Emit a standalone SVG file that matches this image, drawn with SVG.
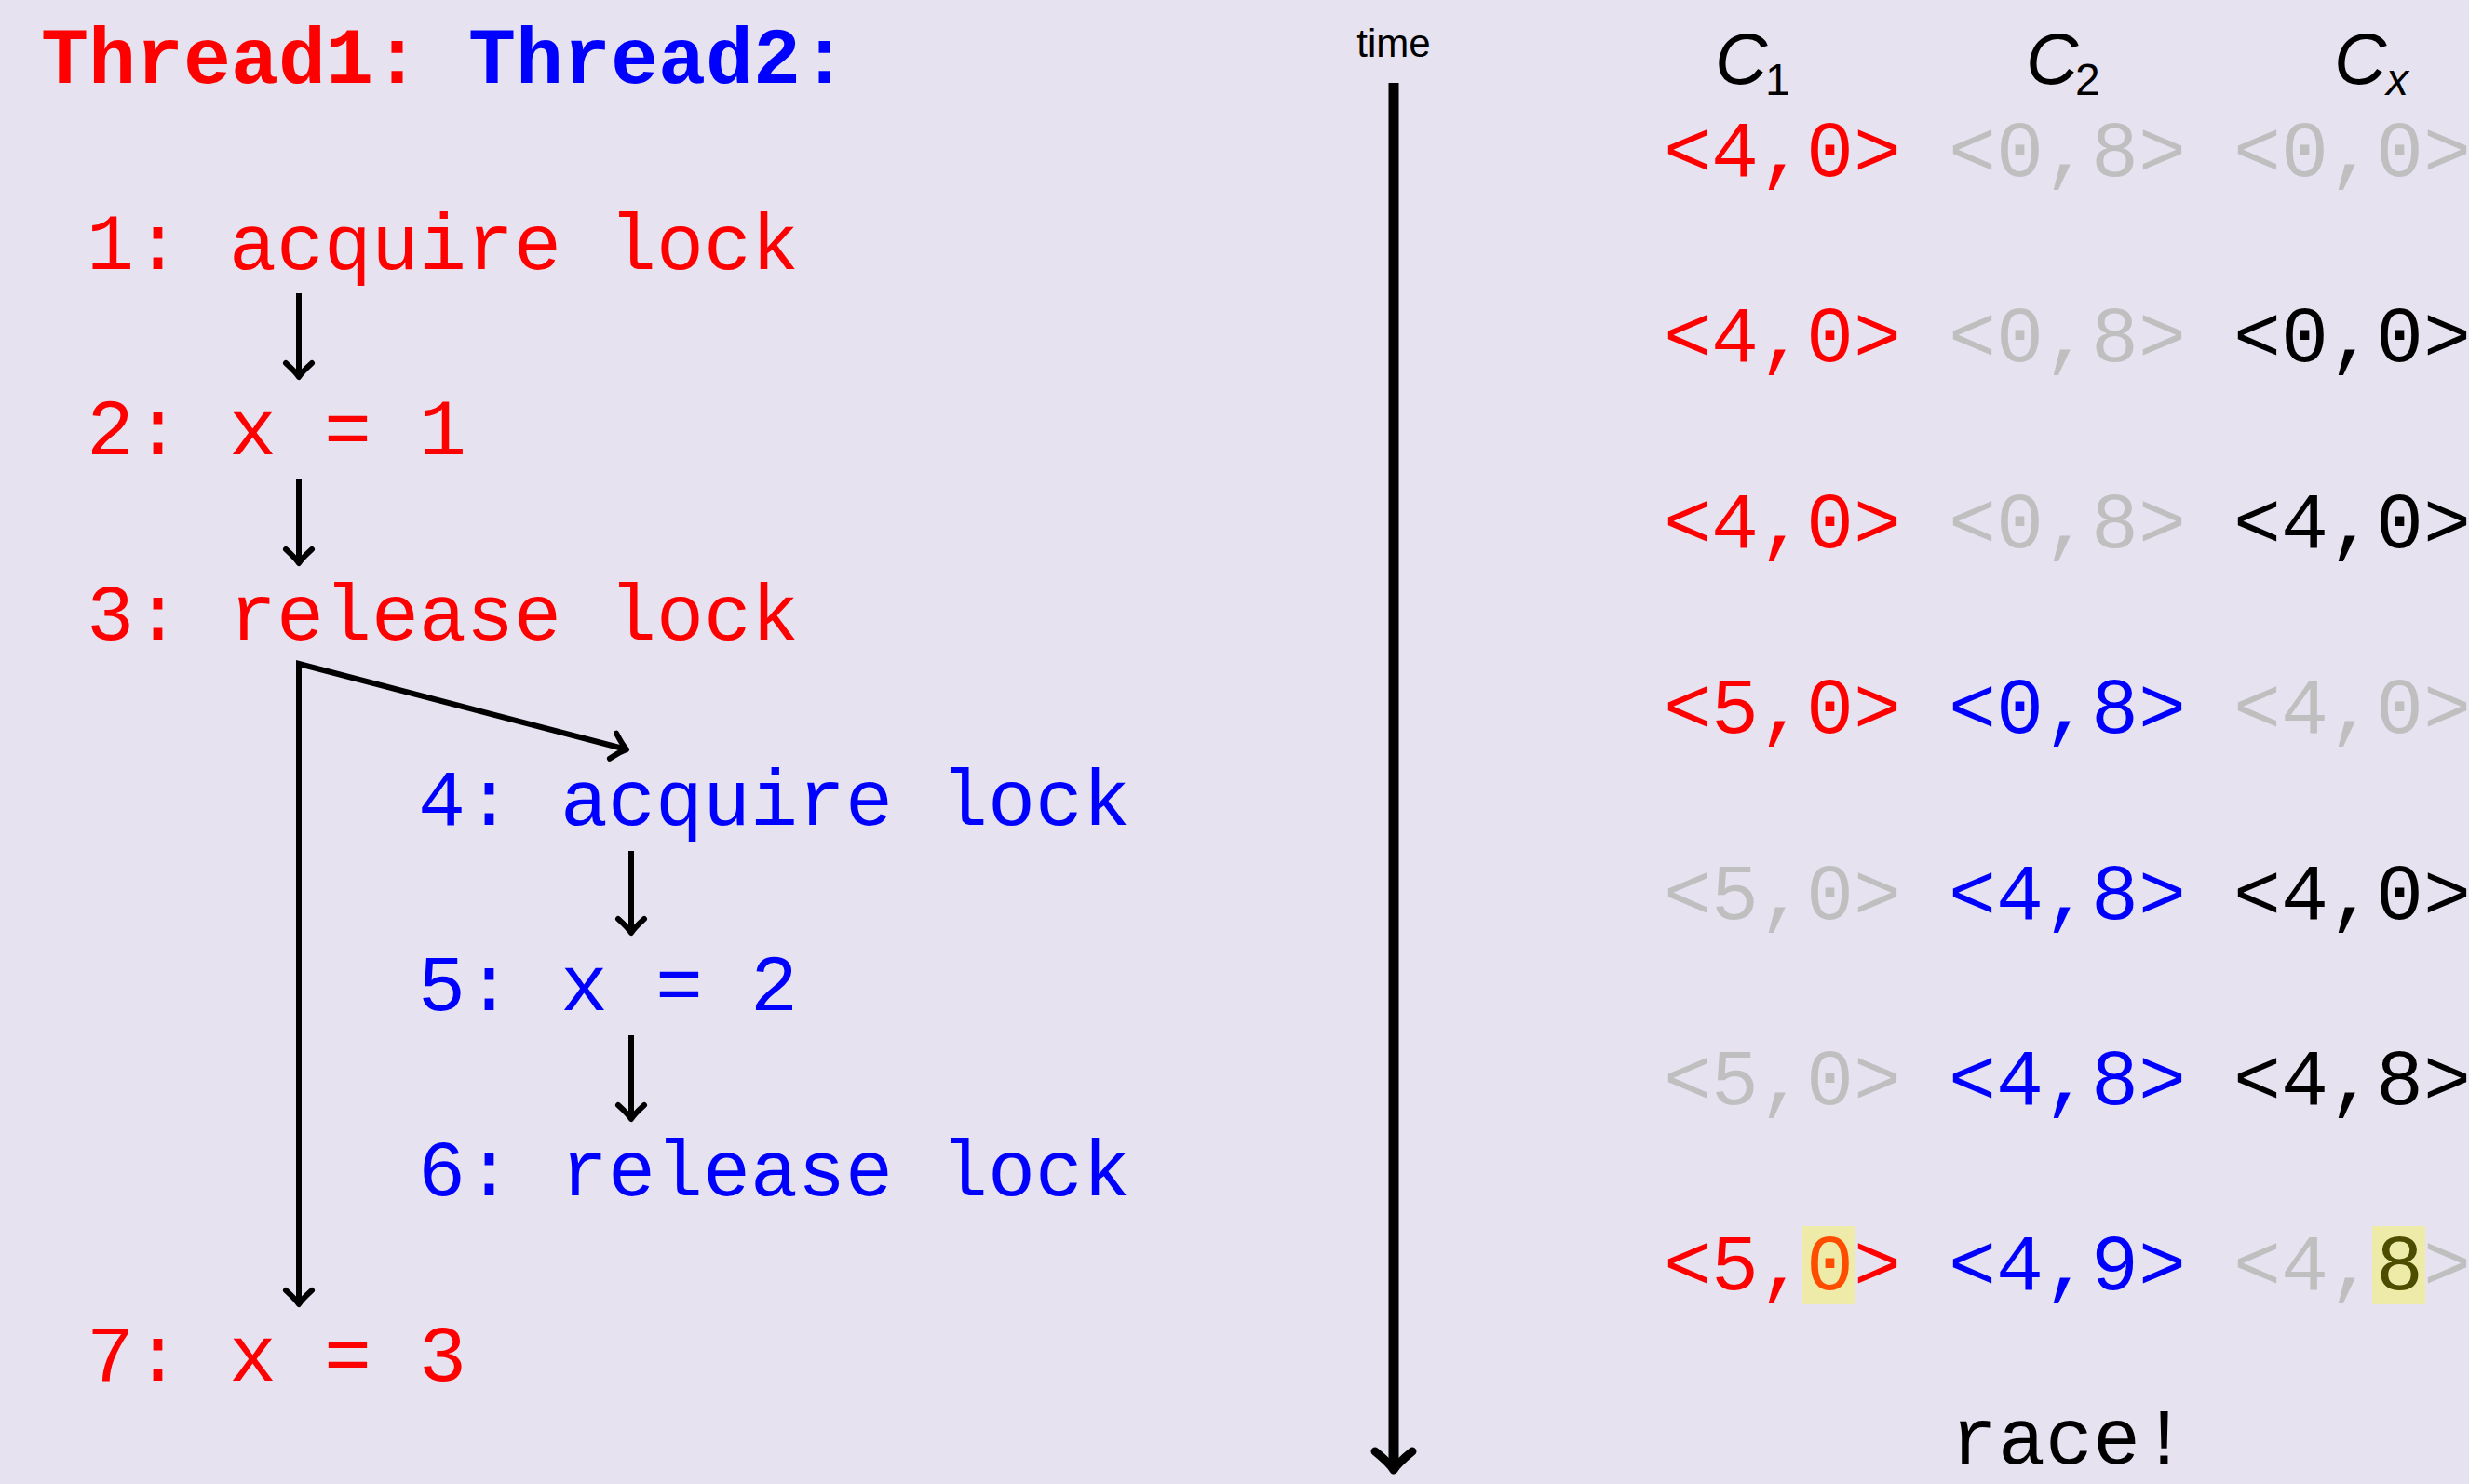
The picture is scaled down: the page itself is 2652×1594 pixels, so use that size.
<svg xmlns="http://www.w3.org/2000/svg" width="2652" height="1594" viewBox="0 0 2652 1594">
<style>
.mono{font-family:"Liberation Mono","Courier New",monospace;font-size:85px}
.bold{font-weight:bold}
.red{fill:#FF0000}
.blue{fill:#0000FF}
.gray{fill:#BFBFBF}
.blk{fill:#000000}
.sans{font-family:"Liberation Sans",Arial,sans-serif;fill:#000}
.cap{font-size:78px;font-style:italic}
.sub{font-size:48px;font-style:normal}
.subi{font-size:48px;font-style:italic}
.conn{fill:none;stroke:#000;stroke-width:6}
.hl{fill:#FFFF00;fill-opacity:0.3}
</style>
<defs>
<marker id="arr" markerUnits="userSpaceOnUse" markerWidth="40" markerHeight="40" viewBox="-20 -20 40 40" refX="0" refY="0" orient="auto">
<path d="M -15,-14 Q -5,-3 0,0 Q -5,3 -15,14" fill="none" stroke="#000" stroke-width="6" stroke-linecap="round" stroke-linejoin="round"/>
</marker>
<marker id="arrT" markerUnits="userSpaceOnUse" markerWidth="60" markerHeight="60" viewBox="-30 -30 60 60" refX="0" refY="0" orient="auto">
<path d="M -20,-20 Q -7,-4 0,0 Q -7,4 -20,20" fill="none" stroke="#000" stroke-width="9" stroke-linecap="round" stroke-linejoin="round"/>
</marker>
</defs>
<rect x="0" y="0" width="2652" height="1594" fill="#E6E2F0"/>

<g id="header">
<text class="mono bold red" x="44" y="89">Thread1:</text>
<text class="mono bold blue" x="503" y="89">Thread2:</text>
</g>

<g id="n1"><text class="mono red" x="93" y="289">1: acquire lock</text></g>
<g id="n2"><text class="mono red" x="93" y="488">2: x = 1</text></g>
<g id="n3"><text class="mono red" x="93" y="687">3: release lock</text></g>
<g id="n4"><text class="mono blue" x="449" y="886">4: acquire lock</text></g>
<g id="n5"><text class="mono blue" x="449" y="1085">5: x = 2</text></g>
<g id="n6"><text class="mono blue" x="449" y="1284">6: release lock</text></g>
<g id="n7"><text class="mono red" x="93" y="1483">7: x = 3</text></g>

<g id="connectors">
<path class="conn" d="M321,315 L321,405" marker-end="url(#arr)"/>
<path class="conn" d="M321,515 L321,605" marker-end="url(#arr)"/>
<path class="conn" d="M321,1401 L321,713 L673,805" stroke-linejoin="miter" marker-end="url(#arr)"/>
<path class="conn" d="M321,713 L321,1401" marker-end="url(#arr)"/>
<path class="conn" d="M678,914 L678,1002" marker-end="url(#arr)"/>
<path class="conn" d="M678,1112 L678,1202" marker-end="url(#arr)"/>
<path d="M1497,89 L1497,1579" fill="none" stroke="#000" stroke-width="11" marker-end="url(#arrT)"/>
</g>

<g id="time"><text class="sans" x="1497" y="61" font-size="42" text-anchor="middle">time</text></g>

<g id="headers">
<text class="sans cap" x="1842" y="90">C<tspan class="sub" x="1896" y="102">1</tspan></text>
<text class="sans cap" x="2176" y="90">C<tspan class="sub" x="2229" y="102">2</tspan></text>
<text class="sans cap" x="2507" y="90">C<tspan class="subi" x="2563" y="102">x</tspan></text>
</g>

<g id="row1">
<text class="mono red" x="1787" y="189">&lt;4,0&gt;</text>
<text class="mono gray" x="2093" y="189">&lt;0,8&gt;</text>
<text class="mono gray" x="2399" y="189">&lt;0,0&gt;</text>
</g>
<g id="row2">
<text class="mono red" x="1787" y="388">&lt;4,0&gt;</text>
<text class="mono gray" x="2093" y="388">&lt;0,8&gt;</text>
<text class="mono blk" x="2399" y="388">&lt;0,0&gt;</text>
</g>
<g id="row3">
<text class="mono red" x="1787" y="588">&lt;4,0&gt;</text>
<text class="mono gray" x="2093" y="588">&lt;0,8&gt;</text>
<text class="mono blk" x="2399" y="588">&lt;4,0&gt;</text>
</g>
<g id="row4">
<text class="mono red" x="1787" y="787">&lt;5,0&gt;</text>
<text class="mono blue" x="2093" y="787">&lt;0,8&gt;</text>
<text class="mono gray" x="2399" y="787">&lt;4,0&gt;</text>
</g>
<g id="row5">
<text class="mono gray" x="1787" y="987">&lt;5,0&gt;</text>
<text class="mono blue" x="2093" y="987">&lt;4,8&gt;</text>
<text class="mono blk" x="2399" y="987">&lt;4,0&gt;</text>
</g>
<g id="row6">
<text class="mono gray" x="1787" y="1186">&lt;5,0&gt;</text>
<text class="mono blue" x="2093" y="1186">&lt;4,8&gt;</text>
<text class="mono blk" x="2399" y="1186">&lt;4,8&gt;</text>
</g>
<g id="row7">
<text class="mono red" x="1787" y="1385">&lt;5,0&gt;</text>
<text class="mono blue" x="2093" y="1385">&lt;4,9&gt;</text>
<text class="mono gray" x="2399" y="1385">&lt;4,<tspan class="blk">8</tspan>&gt;</text>
<rect class="hl" x="1936" y="1317" width="57" height="84"/>
<rect class="hl" x="2548" y="1317" width="57" height="84"/>
</g>

<g id="race"><text class="mono blk" x="2095" y="1572">race!</text></g>
</svg>
